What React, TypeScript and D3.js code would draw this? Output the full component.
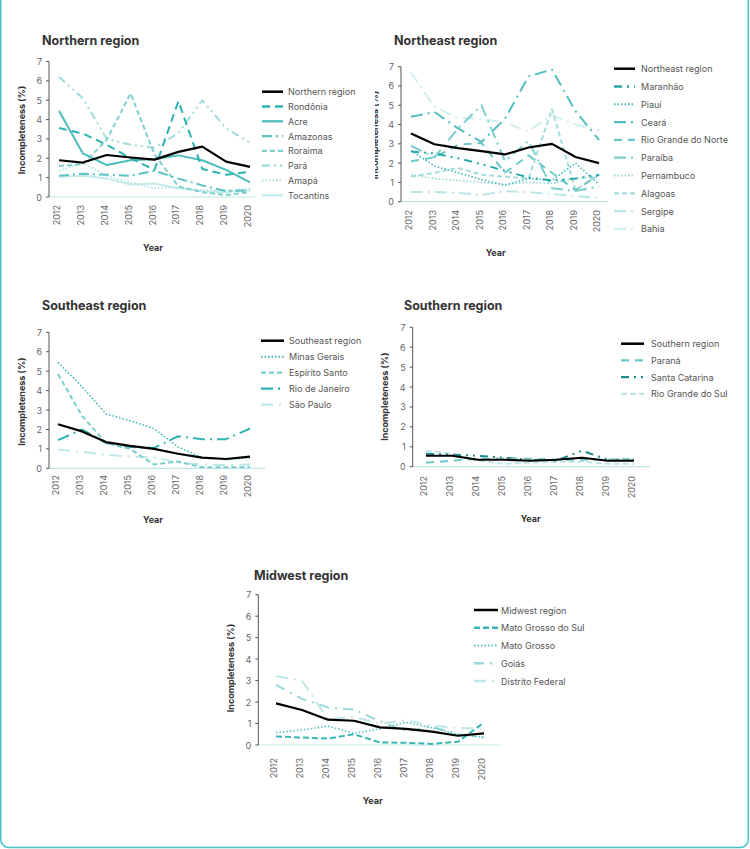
import React from 'react';
import * as d3 from 'd3';

const YEARS = ['2012', '2013', '2014', '2015', '2016', '2017', '2018', '2019', '2020'];
const Y_TICKS = [0, 1, 2, 3, 4, 5, 6, 7];

// Northern region
const NORTH_NAMES = ['Northern region', 'Rondônia', 'Acre', 'Amazonas', 'Roraima', 'Pará', 'Amapá', 'Tocantins'];
const NORTH_REGION = [1.9, 1.78, 2.17, 2.04, 1.93, 2.33, 2.6, 1.83, 1.56];
const RONDONIA = [3.56, 3.28, 2.7, 2.0, 1.4, 4.95, 1.45, 1.15, 1.3];
const ACRE = [4.45, 2.25, 1.65, 1.9, 1.95, 2.15, 1.9, 1.4, 0.75];
const AMAZONAS = [1.1, 1.2, 1.15, 1.1, 1.35, 0.95, 0.6, 0.3, 0.35];
const RORAIMA = [1.6, 1.7, 2.95, 5.35, 2.2, 0.55, 0.25, 0.1, 0.25];
const PARA = [6.2, 5.1, 3.0, 2.7, 2.55, 3.3, 5.0, 3.55, 2.8];
const AMAPA = [1.35, 1.75, 1.1, 0.75, 0.45, 0.5, 0.35, 0.35, 0.45];
const TOCANTINS = [1.05, 1.1, 0.95, 0.65, 0.7, 0.45, 0.3, 0.25, 0.35];

// Northeast region
const NE_NAMES = ['Northeast region', 'Maranhão', 'Piauí', 'Ceará', 'Rio Grande do Norte', 'Paraíba', 'Pernambuco', 'Alagoas', 'Sergipe', 'Bahia'];
const NE_REGION = [3.53, 2.98, 2.78, 2.62, 2.45, 2.81, 3.0, 2.32, 2.0];
const MARANHAO = [2.6, 2.5, 2.25, 1.95, 1.6, 1.25, 1.1, 1.2, 1.4];
const PIAUI = [2.65, 1.85, 1.5, 1.15, 0.85, 1.2, 1.1, 2.0, 0.9];
const CEARA = [4.4, 4.65, 3.8, 3.1, 4.3, 6.5, 6.85, 4.7, 3.2];
const RIO_GRANDE_NORTE = [2.1, 2.3, 2.95, 3.05, 1.5, 2.4, 1.5, 0.6, 1.4];
const PARAIBA = [2.9, 2.3, 3.8, 5.0, 2.1, 3.15, 0.7, 0.55, 0.8];
const PERNAMBUCO = [1.4, 1.2, 1.1, 1.0, 0.9, 1.0, 0.95, 1.2, 1.3];
const ALAGOAS = [1.3, 1.5, 1.75, 1.4, 1.3, 1.2, 4.8, 0.6, 1.4];
const SERGIPE = [0.5, 0.5, 0.45, 0.35, 0.55, 0.5, 0.4, 0.3, 0.2];
const BAHIA = [6.7, 4.9, 4.35, 4.3, 4.1, 3.65, 4.5, 4.0, 3.7];

// Southeast region
const SE_NAMES = ['Southeast region', 'Minas Gerais', 'Espírito Santo', 'Rio de Janeiro', 'São Paulo'];
const SE_REGION = [2.27, 1.9, 1.35, 1.15, 1.0, 0.75, 0.55, 0.48, 0.6];
const MINAS_GERAIS = [5.45, 4.2, 2.8, 2.45, 2.05, 1.1, 0.55, 0.45, 0.55];
const ESPIRITO_SANTO = [4.85, 2.7, 1.3, 1.0, 0.2, 0.35, 0.05, 0.05, 0.05];
const RIO_DE_JANEIRO = [1.45, 2.0, 1.3, 1.1, 1.05, 1.65, 1.5, 1.5, 2.05];
const SAO_PAULO = [0.95, 0.85, 0.7, 0.6, 0.55, 0.3, 0.2, 0.15, 0.2];

// Southern region
const S_NAMES = ['Southern region', 'Paraná', 'Santa Catarina', 'Rio Grande do Sul'];
const S_REGION = [0.55, 0.55, 0.35, 0.35, 0.3, 0.35, 0.45, 0.3, 0.3];
const PARANA = [0.2, 0.3, 0.4, 0.4, 0.4, 0.35, 0.35, 0.35, 0.4];
const SANTA_CATARINA = [0.65, 0.6, 0.55, 0.45, 0.35, 0.3, 0.8, 0.35, 0.35];
const RIO_GRANDE_SUL = [0.8, 0.65, 0.3, 0.15, 0.2, 0.25, 0.25, 0.15, 0.15];

// Midwest region
const MW_NAMES = ['Midwest region', 'Mato Grosso do Sul', 'Mato Grosso', 'Goiás', 'Distrito Federal'];
const MW_REGION = [1.94, 1.63, 1.18, 1.13, 0.82, 0.75, 0.62, 0.43, 0.54];
const MATO_GROSSO_SUL = [0.4, 0.35, 0.3, 0.5, 0.12, 0.1, 0.05, 0.15, 1.05];
const MATO_GROSSO = [0.58, 0.7, 0.88, 0.55, 0.75, 1.05, 0.8, 0.5, 0.35];
const GOIAS = [2.8, 2.15, 1.75, 1.65, 1.1, 0.65, 0.85, 0.5, 0.35];
const DISTRITO_FEDERAL = [3.2, 3.0, 1.2, 1.3, 1.0, 1.15, 0.9, 0.8, 0.75];

type Sty = { c: string; d: string; w: number };
const BLACK: Sty = { c: '#000000', d: '', w: 2.2 };

const FONT = 'Inter, "Open Sans", sans-serif';

type Layout = {
  title: string; tx: number; ty: number;
  axisX: number; y0: number; y7: number; x0: number; x1: number; baseEnd: number;
  labelTop: number; yearX: number; yearY: number; ylabX: number; ylabY: number;
  legX1: number; legX2: number; legTx: number; legY: number; legDy: number; clipX?: number;
};

function Panel({ layout, names, series, styles, id }: { layout: Layout; names: string[]; series: number[][]; styles: Sty[]; id: string }) {
  const L = layout;
  const x = d3.scalePoint<string>().domain(YEARS).range([L.x0, L.x1]);
  const y = d3.scaleLinear().domain([0, 7]).range([L.y0, L.y7]);
  const line = d3.line<number>().x((_, i) => x(YEARS[i]) as number).y((v) => y(v));
  const order = series.map((_, i) => i).slice(1).reverse().concat([0]);
  return (
    <g clipPath={L.clipX !== undefined ? `url(#clip-${id})` : undefined}>
      {L.clipX !== undefined && (
        <defs>
          <clipPath id={`clip-${id}`}>
            <rect x={L.clipX} y={0} width={800} height={900} />
          </clipPath>
        </defs>
      )}
      <text x={L.tx} y={L.ty} fontFamily={FONT} fontWeight={700} fontSize={12.5} fill="#333">{L.title}</text>
      <text transform={`translate(${L.ylabX},${L.ylabY}) rotate(-90)`} textAnchor="middle" fontFamily={FONT} fontWeight={700} fontSize={9} fill="#333" dominantBaseline="central">Incompleteness (%)</text>
      <line x1={L.axisX} x2={L.baseEnd} y1={L.y0} y2={L.y0} stroke="#bfe7e7" strokeWidth={1.2} />
      <line x1={L.axisX} x2={L.axisX} y1={y(7)} y2={L.y0} stroke="#555" strokeWidth={1} />
      {Y_TICKS.map((t) => (
        <g key={t}>
          <line x1={L.axisX - 3} x2={L.axisX} y1={y(t)} y2={y(t)} stroke="#555" strokeWidth={1} />
          <text x={L.axisX - 7} y={y(t)} dominantBaseline="central" textAnchor="end" fontFamily={FONT} fontSize={9} fill="#666">{t}</text>
        </g>
      ))}
      {YEARS.map((yr) => (
        <text key={yr} transform={`translate(${(x(yr) as number) + 1},${L.labelTop}) rotate(-90)`} textAnchor="end" fontFamily={FONT} fontSize={9} fill="#666">{yr}</text>
      ))}
      <text x={L.yearX} y={L.yearY} textAnchor="middle" dominantBaseline="central" fontFamily={FONT} fontWeight={700} fontSize={9} fill="#333">Year</text>
      {order.map((i) => (
        <path key={i} d={line(series[i]) || ''} fill="none" stroke={styles[i].c} strokeWidth={styles[i].w} strokeDasharray={styles[i].d || undefined} strokeLinejoin="round" />
      ))}
      {names.map((n, i) => (
        <g key={n}>
          <line x1={L.legX1} x2={L.legX2} y1={L.legY + i * L.legDy} y2={L.legY + i * L.legDy} stroke={styles[i].c} strokeWidth={styles[i].w + 0.3} strokeDasharray={styles[i].d || undefined} />
          <text x={L.legTx} y={L.legY + i * L.legDy} dominantBaseline="central" fontFamily={FONT} fontSize={9} fill="#555">{n}</text>
        </g>
      ))}
    </g>
  );
}

const NORTH_STY: Sty[] = [
  BLACK,
  { c: '#2bb3b3', d: '8,5', w: 2 },
  { c: '#4cbcbc', d: '', w: 2 },
  { c: '#5ec3c3', d: '10,4,2,4', w: 2 },
  { c: '#80d0d0', d: '5,3', w: 2 },
  { c: '#a0dbdb', d: '8,4,2,4,2,4', w: 2 },
  { c: '#a8dede', d: '1.5,2', w: 1.6 },
  { c: '#c5eaea', d: '', w: 2 },
];
const NE_STY: Sty[] = [
  BLACK,
  { c: '#27a9a9', d: '8,5,2,5,2,5', w: 2 },
  { c: '#3fb8b8', d: '1.5,2', w: 1.6 },
  { c: '#55bfbf', d: '12,5,2,5', w: 2 },
  { c: '#6cc8c8', d: '8,6', w: 2 },
  { c: '#7ccdcd', d: '12,5,2,5', w: 2 },
  { c: '#95d6d6', d: '1.5,2', w: 1.6 },
  { c: '#a6dddd', d: '5,3', w: 2 },
  { c: '#bce6e6', d: '12,5,2,5', w: 2 },
  { c: '#d2efef', d: '12,5,2,5', w: 2 },
];
const SE_STY: Sty[] = [
  BLACK,
  { c: '#3fb8b8', d: '1.5,2', w: 1.6 },
  { c: '#7ccdcd', d: '5,3', w: 2 },
  { c: '#33b2b2', d: '12,5,2,5', w: 2 },
  { c: '#c0e7e7', d: '12,6,2,6', w: 2 },
];
const S_STY: Sty[] = [
  BLACK,
  { c: '#6ecaca', d: '8,6', w: 2 },
  { c: '#1f8a8a', d: '8,5,2,5,2,5', w: 2 },
  { c: '#c0e7e7', d: '6,3', w: 2 },
];
const MW_STY: Sty[] = [
  BLACK,
  { c: '#3bb5b5', d: '6,3', w: 2 },
  { c: '#5cc3c3', d: '1.5,2', w: 1.6 },
  { c: '#9ad9d9', d: '10,6,2,6', w: 2 },
  { c: '#c0e7e7', d: '12,6,2,6', w: 2 },
];

const NORTH_L: Layout = { title: 'Northern region', tx: 42, ty: 45, axisX: 49, y0: 197, y7: 61.5, x0: 59, x1: 250, baseEnd: 255, labelTop: 205, yearX: 153, yearY: 247, ylabX: 21.5, ylabY: 130, legX1: 262, legX2: 283, legTx: 288, legY: 91.7, legDy: 14.8 };
const NE_L: Layout = { title: 'Northeast region', tx: 394, ty: 45, axisX: 401, y0: 201.7, y7: 66.7, x0: 411, x1: 599, baseEnd: 608, labelTop: 210, yearX: 495.7, yearY: 252, ylabX: 374.5, ylabY: 135, legX1: 614, legX2: 635, legTx: 641, legY: 68.7, legDy: 17.8, clipX: 375 };
const SE_L: Layout = { title: 'Southeast region', tx: 42, ty: 310, axisX: 49, y0: 468.3, y7: 332.3, x0: 58, x1: 250, baseEnd: 265, labelTop: 475, yearX: 153, yearY: 519, ylabX: 21.5, ylabY: 401.7, legX1: 261, legX2: 284, legTx: 289, legY: 340.7, legDy: 16 };
const S_L: Layout = { title: 'Southern region', tx: 404, ty: 310, axisX: 412.7, y0: 466.7, y7: 327.3, x0: 426, x1: 634, baseEnd: 650, labelTop: 476, yearX: 530.7, yearY: 518.7, ylabX: 384, ylabY: 396.7, legX1: 621, legX2: 644, legTx: 651, legY: 343.7, legDy: 16.7 };
const MW_L: Layout = { title: 'Midwest region', tx: 254, ty: 580, axisX: 258.3, y0: 745, y7: 594.7, x0: 276, x1: 484, baseEnd: 500, labelTop: 758, yearX: 372.7, yearY: 800.7, ylabX: 230.7, ylabY: 668, legX1: 474, legX2: 498, legTx: 501, legY: 610, legDy: 17.75 };

export default function App() {
  return (
    <svg width={750} height={849} style={{ position: 'absolute', left: 0, top: 0, background: '#fff' }}>
      <rect x={0} y={0} width={750} height={849} fill="#fff" />
      <Panel id="n" layout={NORTH_L} names={NORTH_NAMES} styles={NORTH_STY}
        series={[NORTH_REGION, RONDONIA, ACRE, AMAZONAS, RORAIMA, PARA, AMAPA, TOCANTINS]} />
      <Panel id="ne" layout={NE_L} names={NE_NAMES} styles={NE_STY}
        series={[NE_REGION, MARANHAO, PIAUI, CEARA, RIO_GRANDE_NORTE, PARAIBA, PERNAMBUCO, ALAGOAS, SERGIPE, BAHIA]} />
      <Panel id="se" layout={SE_L} names={SE_NAMES} styles={SE_STY}
        series={[SE_REGION, MINAS_GERAIS, ESPIRITO_SANTO, RIO_DE_JANEIRO, SAO_PAULO]} />
      <Panel id="s" layout={S_L} names={S_NAMES} styles={S_STY}
        series={[S_REGION, PARANA, SANTA_CATARINA, RIO_GRANDE_SUL]} />
      <Panel id="mw" layout={MW_L} names={MW_NAMES} styles={MW_STY}
        series={[MW_REGION, MATO_GROSSO_SUL, MATO_GROSSO, GOIAS, DISTRITO_FEDERAL]} />
      <rect x={0.75} y={-20} width={747.5} height={867.5} rx={8} fill="none" stroke="#45c3c8" strokeWidth={1.5} />
    </svg>
  );
}
